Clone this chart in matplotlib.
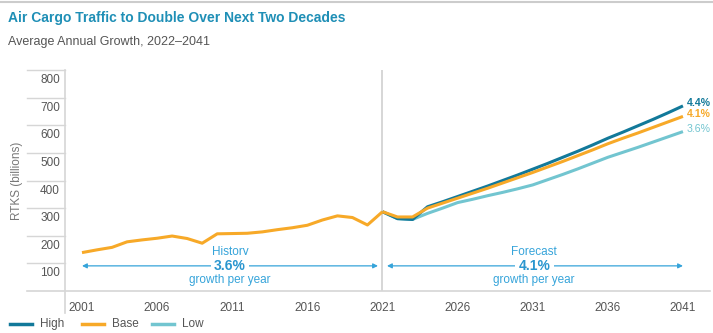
import matplotlib.pyplot as plt
from matplotlib.lines import Line2D
import matplotlib.transforms as mtransforms
import numpy as np

plt.rcParams['font.family'] = ['Liberation Sans', 'DejaVu Sans']

# history (one series, all scenarios share it)
years_hist = np.arange(2001, 2022)
rtk_hist = [139, 149, 158, 178, 185, 191, 199, 190, 173, 207, 208,
            209, 214, 222, 229, 238, 257, 272, 266, 239, 287]

# forecast scenarios
years_fc = np.arange(2021, 2042)
rtk_high = [287, 262, 259, 305, 323, 342, 361, 380, 400, 420, 441,
            462, 484, 506, 529, 553, 575, 598, 621, 645, 670]
rtk_base = [287, 268, 268, 300, 318, 336, 354, 372, 391, 410, 429,
            449, 469, 490, 511, 533, 553, 572, 592, 612, 632]
rtk_low = [287, 262, 259, 281, 300, 320, 332, 345, 357, 370, 384,
           403, 422, 442, 463, 484, 502, 520, 539, 558, 577]

growth_labels = ["4.4%", "4.1%", "3.6%"]
yticks = [100, 200, 300, 400, 500, 600, 700, 800]
xticks = [2001, 2006, 2011, 2016, 2021, 2026, 2031, 2036, 2041]

c_high = "#12799a"
c_base = "#f7a928"
c_low = "#72c5d0"
c_note = "#36a4da"
c_grid = "#d6d6d6"
c_text = "#555555"

fig = plt.figure(figsize=(7.13, 3.33), dpi=100)
ax = fig.add_axes([0.0912, 0.1261, 0.9046, 0.6637])

ax.plot(years_fc, rtk_low, color=c_low, lw=2.2, solid_capstyle="butt")
ax.plot(years_fc, rtk_high, color=c_high, lw=2.2, solid_capstyle="butt")
ax.plot(years_fc, rtk_base, color=c_base, lw=2.2, solid_capstyle="butt")
ax.plot(years_hist, rtk_hist, color=c_base, lw=2.2, solid_capstyle="butt")

ax.set_xlim(1999.87, 2042.8)
ax.set_ylim(0, 800)

for s in ["top", "right", "left", "bottom"]:
    ax.spines[s].set_visible(False)

# grid stubs left of the axis + labels just under them
trans = mtransforms.blended_transform_factory(ax.transAxes, ax.transData)
for v in yticks:
    ax.add_line(Line2D([-0.059, 0], [v, v], transform=trans, color=c_grid,
                       lw=1, clip_on=False))
    off = mtransforms.offset_copy(trans, fig=fig, x=-5, y=-10, units="dots")
    ax.text(0, v, str(v), transform=off, ha="right", va="center",
            fontsize=8.5, color=c_text)
ax.add_line(Line2D([-0.059, 1.0], [0, 0], transform=trans, color=c_grid,
                   lw=1.2, clip_on=False))
ax.add_line(Line2D([0, 0], [-0.1, 1.0], transform=ax.transAxes, color=c_grid,
                   lw=1.2, clip_on=False))
ax.axvline(2021, color="#cfcfcf", lw=1.2, zorder=0)

ax.set_yticks([])
ax.set_xticks(xticks)
ax.set_xticklabels([str(x) for x in xticks])
ax.tick_params(axis="x", length=0, pad=8, labelsize=8.5, labelcolor=c_text)

ax.text(-0.075, 0.5, "RTKS (billions)", transform=ax.transAxes, rotation=90,
        ha="center", va="center", fontsize=8.5, color="#777777")

# end labels
ends = [rtk_high[-1], rtk_base[-1], rtk_low[-1]]
cols = [c_high, c_base, c_low]
weights = ["bold", "bold", "normal"]
for val, lab, col, w in zip(ends, growth_labels, cols, weights):
    ax.text(2041.25, val + 10, lab, color=col, fontsize=7.6, fontweight=w,
            ha="left", va="center", clip_on=False)

# history / forecast arrows
arrow = dict(arrowstyle="<|-|>", color=c_note, lw=0.9, mutation_scale=7,
             shrinkA=0, shrinkB=0)
ax.annotate("", xy=(2001, 91), xytext=(2020.7, 91), arrowprops=arrow)
ax.annotate("", xy=(2021.3, 91), xytext=(2041, 91), arrowprops=arrow)

for xc, name, pct in [(2010.85, "History", "3.6%"), (2031.1, "Forecast", "4.1%")]:
    ax.text(xc, 141, name, ha="center", va="center", fontsize=8.5, color=c_note)
    ax.text(xc, 91, pct, ha="center", va="center", fontsize=10,
            fontweight="bold", color="#2a96cf",
            bbox=dict(facecolor="white", edgecolor="none", pad=2.5))
    ax.text(xc, 40, "growth per year", ha="center", va="center",
            fontsize=8.5, color=c_note)

# title block
fig.add_artist(Line2D([0, 1], [0.994, 0.994], transform=fig.transFigure,
                      color="#cccccc", lw=1.5))
fig.text(0.011, 0.945, "Air Cargo Traffic to Double Over Next Two Decades",
         fontsize=10, fontweight="bold", color="#1f8fb6", va="center")
fig.text(0.011, 0.873, "Average Annual Growth, 2022\u20132041",
         fontsize=9, color=c_text, va="center")

# legend
leg_items = [("High", c_high, 0.014), ("Base", c_base, 0.115), ("Low", c_low, 0.213)]
for name, col, x0 in leg_items:
    fig.add_artist(Line2D([x0, x0 + 0.031], [0.027, 0.027],
                          transform=fig.transFigure, color=col, lw=2.5))
    fig.text(x0 + 0.042, 0.027, name, fontsize=8.5, color=c_text, va="center")

fig.savefig("out.png", dpi=100)
